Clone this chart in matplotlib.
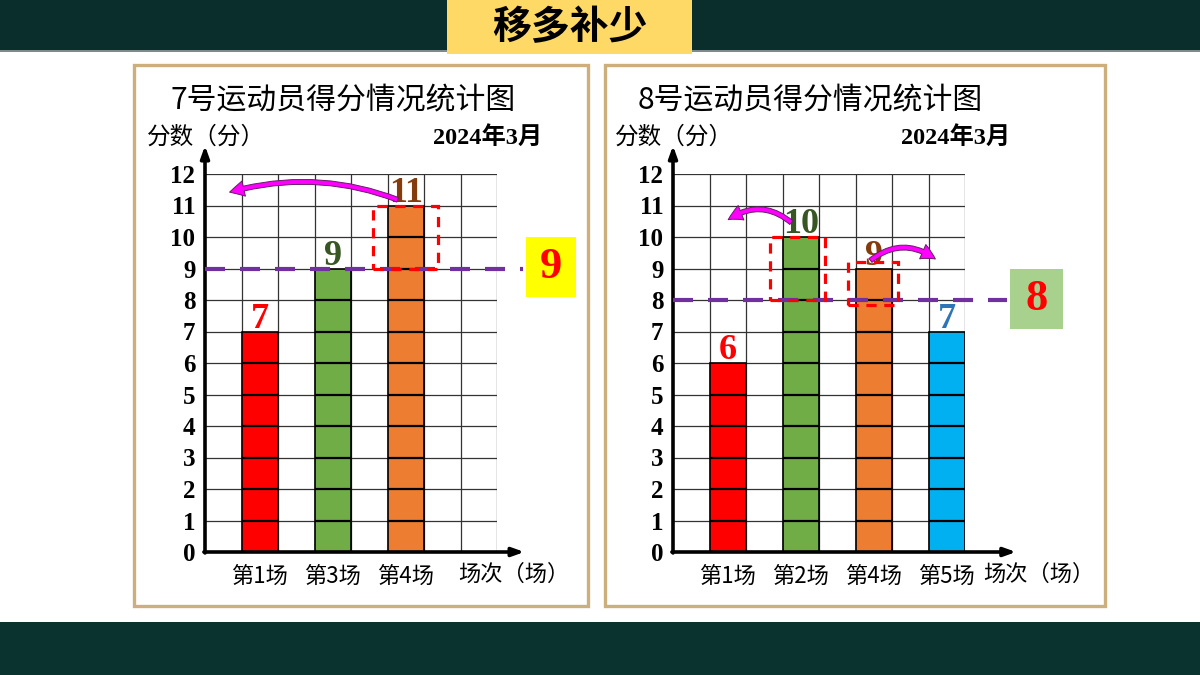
import numpy as np
import matplotlib
matplotlib.use('Agg')
from matplotlib import pyplot as plt
from matplotlib.patches import Rectangle, FancyArrowPatch

plt.rcParams['font.family'] = ['Noto Sans CJK SC', 'DejaVu Sans']

#chart data
banner = '移多补少'
yTicks = list(range(0, 13))
yLabel = '分数（分）'
xLabel = '场次（场）'
dateLabel = '2024年3月'

leftTitle = '7号运动员得分情况统计图'
leftCats = ['第1场', '第3场', '第4场']
leftScores = [7, 9, 11]
leftAvg = 9

rightTitle = '8号运动员得分情况统计图'
rightCats = ['第1场', '第2场', '第4场', '第5场']
rightScores = [6, 10, 9, 7]
rightAvg = 8

barColours = ['#FF0000', '#70AD47', '#ED7D31', '#00B0F0']
numColours = ['#FF0000', '#375623', '#843C0C', '#2E75B6']
serifBold = dict(family=['Liberation Serif', 'Noto Sans CJK SC'], weight='bold')

W, H = 1200, 675
fig = plt.figure(figsize=(12, 6.75), dpi=100)

def fx(px):
    return px / W

def fy(py):
    return 1 - py / H

def figRect(x0, y0, x1, y1, **kw):
    #rectangle given in pixel coords (top-left origin), kept behind the axes
    r = Rectangle((fx(x0), fy(y1)), (x1 - x0) / W, (y1 - y0) / H,
                  transform=fig.transFigure, zorder=-5, **kw)
    fig.patches.append(r)
    return r

#background bands and banner
figRect(0, 0, W, 50, facecolor='#0A2E2B', edgecolor='none')
figRect(0, 50, W, 52, facecolor='#7C8C89', edgecolor='none')
figRect(0, 622, W, H, facecolor='#0A3330', edgecolor='none')
figRect(447, 0, 692, 54, facecolor='#FFD966', edgecolor='none')
fig.text(fx(570), fy(28), banner, fontsize=28, fontweight='bold', ha='center', va='center')

#panel frames
figRect(134, 65, 588, 606, facecolor='white', edgecolor='#CDAE7D', lw=2.4)
figRect(605, 65, 1105, 606, facecolor='white', edgecolor='#CDAE7D', lw=2.4)


def drawChart(x0, title, cats, scores, avg, xEnd, lineEnd, box, boxColour, xlabX):
    ax = fig.add_axes([fx(x0), fy(552), 292 / W, 378 / H])
    ax.set_xlim(0, 8)
    ax.set_ylim(0, 12)
    ax.patch.set_alpha(0)
    for s in ax.spines.values():
        s.set_visible(False)

    #grid
    ax.hlines(yTicks[1:], 0, 8, color='#333333', lw=0.9, zorder=1)
    ax.vlines(range(1, 9), 0, 12, color='#333333', lw=0.9, zorder=1)

    slots = [1, 3, 5, 7][:len(scores)]
    x = [s + 0.5 for s in slots]
    n = len(scores)
    ax.bar(x, scores, width=1, color=barColours[:n], edgecolor='black', lw=1.2, zorder=2)
    for xi, v, c in zip(x, scores, numColours):
        ax.hlines(range(1, v), xi - 0.5, xi + 0.5, color='black', lw=1.6, zorder=3)
        ax.text(xi, v + 0.12, str(v), color=c, fontsize=26, ha='center', va='baseline',
                zorder=4, **serifBold)

    #axes with arrows
    arr = dict(arrowstyle='-|>,head_length=0.7,head_width=0.25', lw=2.6, color='black',
               shrinkA=0, shrinkB=0)
    ax.annotate('', xy=(xEnd, 0), xytext=(-0.03, 0), arrowprops=arr, annotation_clip=False)
    ax.annotate('', xy=(0, 12.9), xytext=(0, -0.03), arrowprops=arr, annotation_clip=False)

    ax.set_yticks(yTicks)
    ax.set_yticklabels([str(t) for t in yTicks], fontsize=18, **serifBold)
    ax.set_xticks(x)
    ax.set_xticklabels(cats, fontsize=16)
    ax.tick_params(axis='y', length=0, pad=7)
    ax.tick_params(axis='x', length=0, pad=9)
    ax.text(xlabX, -0.72, xLabel, fontsize=16, ha='left', va='center', clip_on=False)

    #average line and box
    ax.plot([0, lineEnd], [avg, avg], color='#7030A0', lw=3, ls=(0, (4.8, 3.6)),
            clip_on=False, zorder=5)
    bx0, by0, bx1, by1 = box
    ax.add_patch(Rectangle((bx0, by0), bx1 - bx0, by1 - by0, facecolor=boxColour,
                           edgecolor='none', clip_on=False, zorder=5))
    ax.text((bx0 + bx1) / 2, (by0 + by1) / 2, str(avg), color='#FF0000', fontsize=32,
            ha='center', va='center', zorder=6, **serifBold)

    #titles
    fig.text(fx(x0 - 35), fy(100), title, fontsize=21.5, ha='left', va='center')
    fig.text(fx(x0 - 58), fy(137), yLabel, fontsize=17, ha='left', va='center')
    fig.text(fx(x0 + 228), fy(137), dateLabel, fontsize=17.5, ha='left', va='center', **serifBold)
    return ax


def dashedBox(ax, xa, ya, xb, yb):
    ax.add_patch(Rectangle((xa, ya), xb - xa, yb - ya, fill=False, edgecolor='#FF0000',
                           lw=2.3, ls=(0, (3.2, 2.4)), clip_on=False, zorder=6))


def moveArrow(ax, start, end, rad):
    ax.add_patch(FancyArrowPatch(start, end, connectionstyle='arc3,rad=%s' % rad,
                                 arrowstyle='simple,head_width=1.6,head_length=1.5,tail_width=0.5',
                                 mutation_scale=7, fc='#FF00FF', ec='#6A1B6A', lw=0.7,
                                 clip_on=False, zorder=7))


axL = drawChart(205, leftTitle, leftCats, leftScores, leftAvg, 8.75, 8.7,
                (8.79, 8.1, 10.16, 10.0), '#FFFF00', 6.93)
dashedBox(axL, 4.6, 9, 6.38, 11)
moveArrow(axL, (5.35, 11.15), (0.6, 11.4), 0.17)

axR = drawChart(673, rightTitle, rightCats, rightScores, rightAvg, 9.4, 9.15,
                (9.23, 7.08, 10.68, 9.0), '#A9D18E', 8.5)
dashedBox(axR, 2.66, 8, 4.16, 10)
dashedBox(axR, 4.8, 7.84, 6.16, 9.2)
moveArrow(axR, (3.3, 10.4), (1.45, 10.5), 0.4)
moveArrow(axR, (5.35, 9.2), (7.25, 9.25), -0.4)

plt.savefig('out.png', dpi=100)
